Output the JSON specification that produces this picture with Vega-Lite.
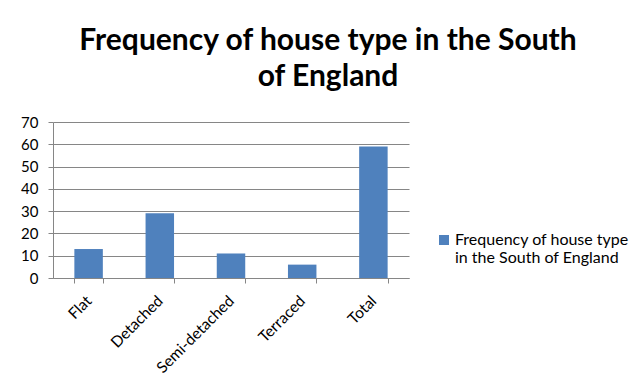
{
  "$schema": "https://vega.github.io/schema/vega-lite/v6.json",
  "autosize": "none",
  "width": 356,
  "height": 156,
  "padding": {"left": 53, "top": 122, "right": 233, "bottom": 113},
  "background": "white",
  "data": {
    "values": [
      {"type": "Flat", "frequency": 13, "series": "Frequency of house type in the South of England"},
      {"type": "Detached", "frequency": 29, "series": "Frequency of house type in the South of England"},
      {"type": "Semi-detached", "frequency": 11, "series": "Frequency of house type in the South of England"},
      {"type": "Terraced", "frequency": 6, "series": "Frequency of house type in the South of England"},
      {"type": "Total", "frequency": 59, "series": "Frequency of house type in the South of England"}
    ]
  },
  "title": {
    "text": ["Frequency of house type in the South", "of England"],
    "font": "Lato",
    "fontSize": 30,
    "fontWeight": "bold",
    "color": "black",
    "anchor": "middle",
    "dx": 97,
    "lineHeight": 36,
    "offset": 23
  },
  "mark": {"type": "bar", "color": "#4F81BD"},
  "encoding": {
    "x": {
      "field": "type",
      "type": "nominal",
      "sort": null,
      "scale": {"paddingInner": 0.6, "paddingOuter": 0.3},
      "axis": {
        "title": null,
        "labelAngle": -45,
        "labelAlign": "right",
        "labelBaseline": "middle",
        "labelFont": "Lato",
        "labelFontSize": 15.5,
        "labelColor": "black",
        "labelPadding": 15,
        "tickBand": "extent",
        "tickSize": 5,
        "tickColor": "#868686",
        "domainColor": "#868686",
        "grid": false
      }
    },
    "y": {
      "field": "frequency",
      "type": "quantitative",
      "scale": {"domain": [0, 70]},
      "axis": {
        "title": null,
        "values": [0, 10, 20, 30, 40, 50, 60, 70],
        "labelFont": "Lato",
        "labelFontSize": 15,
        "labelColor": "black",
        "labelPadding": 10,
        "tickSize": 5,
        "tickColor": "#868686",
        "domainColor": "#868686",
        "gridColor": "#868686",
        "gridWidth": 1
      }
    },
    "color": {
      "field": "series",
      "type": "nominal",
      "scale": {"range": ["#4F81BD"]},
      "legend": {
        "title": null,
        "orient": "none",
        "legendX": 383,
        "legendY": 110,
        "symbolType": "square",
        "symbolSize": 100,
        "symbolStrokeWidth": 0,
        "labelFont": "Lato",
        "labelFontSize": 16,
        "labelColor": "black",
        "labelLimit": 300,
        "labelOffset": 3,
        "labelBaseline": "middle",
        "labelLineHeight": 18,
        "labelExpr": "['Frequency of house type', 'in the South of England']"
      }
    }
  },
  "config": {
    "view": {"stroke": null}
  }
}
